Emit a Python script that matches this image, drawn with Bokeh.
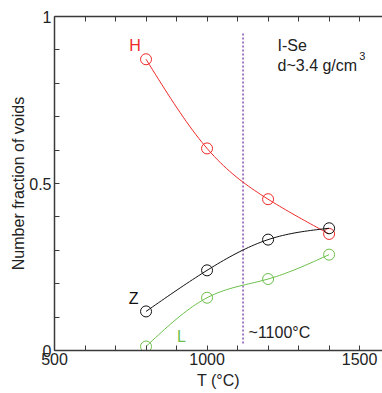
import numpy as np
from bokeh.plotting import figure
from bokeh.models import Range1d, LinearAxis, FixedTicker, Label
from bokeh.embed import file_html
from bokeh.resources import INLINE

# Data
temps = [800, 1000, 1200, 1400]
frac_H = [0.872, 0.605, 0.453, 0.349]
frac_Z = [0.117, 0.240, 0.332, 0.366]
frac_L = [0.012, 0.158, 0.214, 0.287]

x_major = [500, 1000, 1500]
x_minor = [600, 700, 800, 900, 1100, 1200, 1300, 1400]
y_major = [0, 0.5, 1]
y_minor = [0.1, 0.2, 0.3, 0.4, 0.6, 0.7, 0.8, 0.9]
transition_T = 1118

RED = "#ee2a2a"
GREEN = "#6cc04a"
BLACK = "#111111"
PURPLE = "#8e5bb8"
FONT = "Liberation Sans"


def natural_spline(xs, ys, n=60):
    xs = np.asarray(xs, float)
    ys = np.asarray(ys, float)
    k = len(xs)
    h = np.diff(xs)
    A = np.zeros((k, k))
    b = np.zeros(k)
    A[0, 0] = 1
    A[-1, -1] = 1
    for i in range(1, k - 1):
        A[i, i - 1] = h[i - 1]
        A[i, i] = 2 * (h[i - 1] + h[i])
        A[i, i + 1] = h[i]
        b[i] = 6 * ((ys[i + 1] - ys[i]) / h[i] - (ys[i] - ys[i - 1]) / h[i - 1])
    M = np.linalg.solve(A, b)
    xx = np.linspace(xs[0], xs[-1], n)
    yy = np.empty_like(xx)
    for j, x in enumerate(xx):
        i = min(np.searchsorted(xs, x, side="right") - 1, k - 2)
        t1 = xs[i + 1] - x
        t0 = x - xs[i]
        yy[j] = (M[i] * t1 ** 3 / (6 * h[i]) + M[i + 1] * t0 ** 3 / (6 * h[i])
                 + (ys[i] / h[i] - M[i] * h[i] / 6) * t1
                 + (ys[i + 1] / h[i] - M[i + 1] * h[i] / 6) * t0)
    return xx, yy


p = figure(width=382, height=393, output_backend="svg", toolbar_location=None,
           x_range=Range1d(500, 1575), y_range=Range1d(0, 1),
           min_border_left=54, min_border_right=0, min_border_top=16,
           min_border_bottom=43, x_axis_location=None, y_axis_location=None)
p.outline_line_color = None
p.xgrid.visible = False
p.ygrid.visible = False
p.background_fill_color = "white"
p.border_fill_color = "white"

AX = "#3a3a3a"
TXT = "#222222"


def style_axis(ax, ticker, labels=True):
    ax.ticker = ticker
    ax.axis_line_color = AX
    ax.axis_line_width = 1.5
    ax.major_tick_line_color = AX
    ax.minor_tick_line_color = AX
    ax.major_tick_in = 5
    ax.major_tick_out = 0
    ax.minor_tick_in = 5
    ax.minor_tick_out = 0
    ax.major_label_text_font = FONT
    ax.major_label_text_color = TXT
    ax.axis_label_text_font = FONT
    ax.axis_label_text_font_style = "normal"
    ax.axis_label_text_font_size = "16px"
    ax.axis_label_text_color = TXT
    if labels:
        ax.major_label_text_font_size = "16px"
    else:
        ax.major_label_text_color = None
        ax.major_label_text_font_size = "1px"
        ax.major_label_standoff = 0


xb = LinearAxis()
style_axis(xb, FixedTicker(ticks=x_major, minor_ticks=x_minor))
xb.axis_label = "T (°C)"
xb.major_label_standoff = 2
xb.axis_label_standoff = 4
p.add_layout(xb, "below")

xt = LinearAxis()
style_axis(xt, FixedTicker(ticks=x_major, minor_ticks=x_minor), labels=False)
p.add_layout(xt, "above")

yl = LinearAxis()
style_axis(yl, FixedTicker(ticks=y_major, minor_ticks=y_minor))
yl.axis_label = "Number fraction of voids"
yl.major_label_standoff = 3
yl.axis_label_standoff = -1
yl.major_label_overrides = {0: "0", 0.5: "0.5", 1: "1"}
p.add_layout(yl, "left")

# Transition line
p.line([transition_T, transition_T], [0.021, 0.955], line_color=PURPLE,
       line_width=1.6, line_dash="2 2")

for ys, col in [(frac_H, RED), (frac_Z, BLACK), (frac_L, GREEN)]:
    xx, yy = natural_spline(temps, ys)
    p.line(xx, yy, line_color=col, line_width=1)
    p.scatter(temps, ys, marker="circle", size=11, fill_color=None,
              line_color=col, line_width=1)


def lab(x, y, t, col, size="16px", align="left"):
    p.add_layout(Label(x=x, y=y, text=t, text_color=col, text_font=FONT,
                       text_font_size=size, text_align=align,
                       text_baseline="alphabetic"))


lab(764, 0.913, "H", RED, align="center")
lab(759, 0.156, "Z", BLACK, align="center")
lab(916, 0.042, "L", GREEN, align="center")
lab(1231, 0.913, "I-Se", TXT)
lab(1231, 0.853, "d~3.4 g/cm", TXT)
lab(1499, 0.882, "3", TXT, size="11px")
lab(1136, 0.054, "~1100°C", TXT)

open("out.html", "w").write(file_html(p, INLINE))
